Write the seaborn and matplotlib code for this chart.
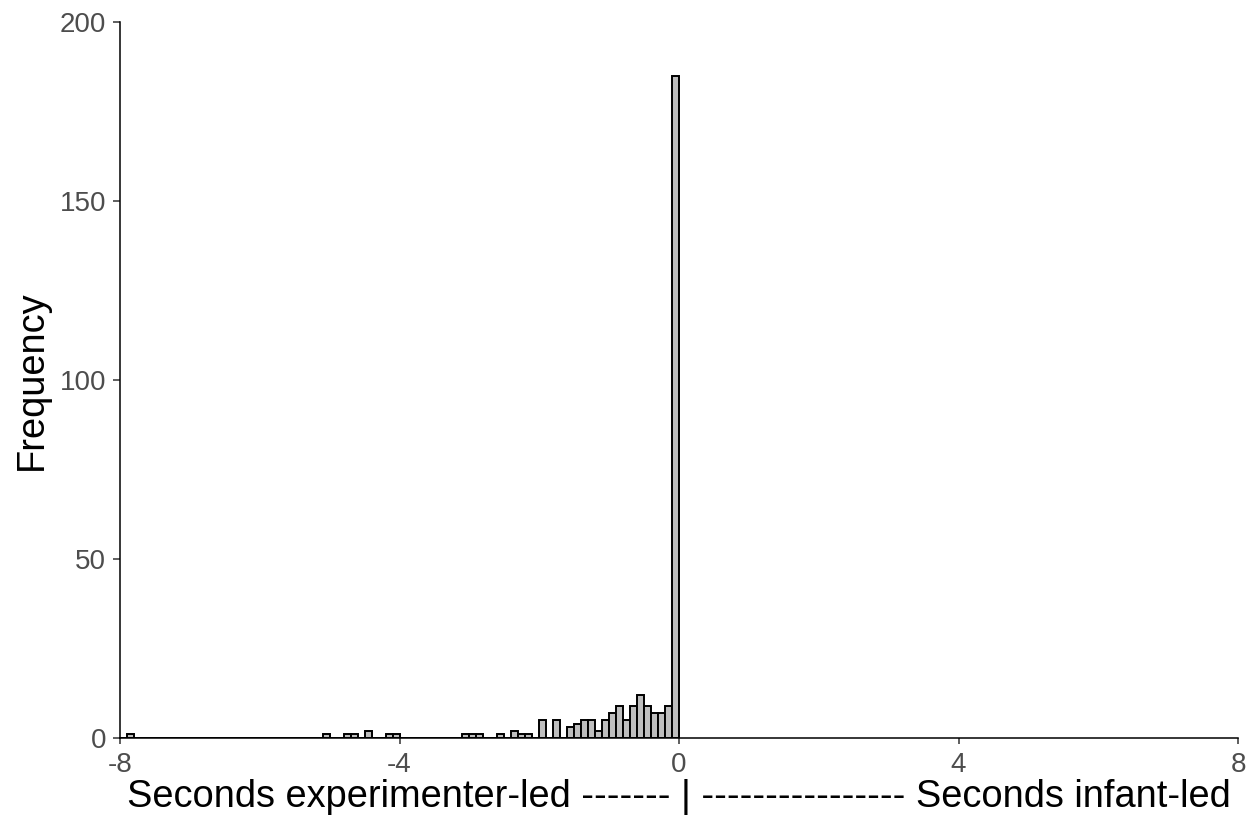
import numpy as np
import pandas as pd
import matplotlib
matplotlib.use("Agg")
import matplotlib.pyplot as plt
import seaborn as sns

# Histogram bins (left edge, seconds) and frequencies
bin_left = [-7.9, -5.1, -4.8, -4.7, -4.5, -4.2, -4.1, -3.1, -3.0, -2.9,
            -2.6, -2.4, -2.3, -2.2, -2.0, -1.8, -1.6, -1.5, -1.4, -1.3,
            -1.2, -1.1, -1.0, -0.9, -0.8, -0.7, -0.6, -0.5, -0.4, -0.3,
            -0.2, -0.1]
counts = [1, 1, 1, 1, 2, 1, 1, 1, 1, 1,
          1, 2, 1, 1, 5, 5, 3, 4, 5, 5,
          2, 5, 7, 9, 5, 9, 12, 9, 7, 7,
          9, 185]
bin_width = 0.1
x_ticks = [-8, -4, 0, 4, 8]
y_ticks = [0, 50, 100, 150, 200]
x_label = "Seconds experimenter-led ------- | ---------------- Seconds infant-led"
y_label = "Frequency"

sns.set_style("white")
plt.rcParams['font.family'] = ['Liberation Sans', 'DejaVu Sans']

df = pd.DataFrame({"center": np.array(bin_left) + bin_width / 2, "count": counts})

fig = plt.figure(figsize=(12.56, 8.18), dpi=100)
ax = fig.add_axes([120 / 1256, 1 - 738 / 818, (1238 - 120) / 1256, (738 - 22) / 818])

sns.histplot(data=df, x="center", weights="count", binwidth=bin_width,
             binrange=(-8, 0), color="#BEBEBE", edgecolor="black",
             linewidth=1.4, alpha=1, ax=ax)

ax.set_xlim(-8, 8)
ax.set_ylim(0, 200)
ax.set_xticks(x_ticks)
ax.set_yticks(y_ticks)
ax.set_xticklabels([str(t) for t in x_ticks])
ax.set_yticklabels([str(t) for t in y_ticks])
ax.tick_params(axis="both", which="major", labelsize=20, labelcolor="#4D4D4D",
               color="#333333", width=1.1, direction="out",
               bottom=True, left=True)
ax.tick_params(axis="x", length=4, pad=6)
ax.tick_params(axis="y", length=5, pad=5)
for side in ["top", "right"]:
    ax.spines[side].set_visible(False)
for side in ["left", "bottom"]:
    ax.spines[side].set_color("black")
    ax.spines[side].set_linewidth(1.1)

ax.set_xlabel(x_label, fontsize=27.4, color="black", labelpad=1)
ax.set_ylabel(y_label, fontsize=27.4, color="black", labelpad=7)

fig.savefig("out.png", dpi=100)
